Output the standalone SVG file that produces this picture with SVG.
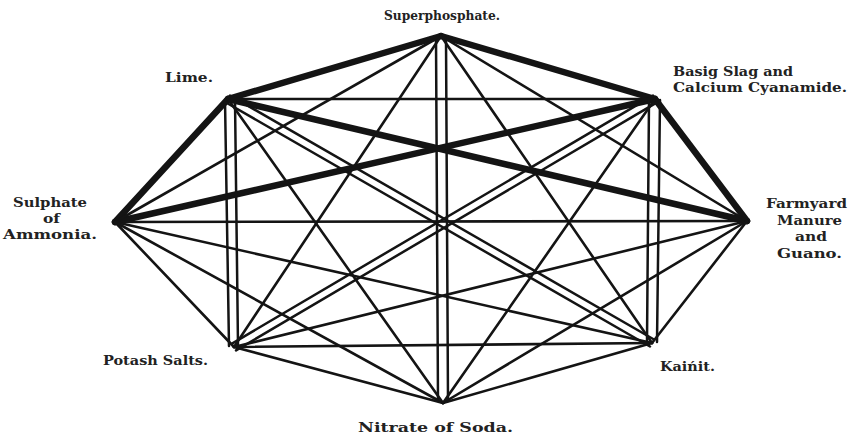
<svg xmlns="http://www.w3.org/2000/svg" width="854" height="437" viewBox="0 0 854 437">
<style>
.thin{stroke:#141414;stroke-width:2.6;fill:none;stroke-linecap:round}
.thick{stroke:#141414;stroke-width:6.5;fill:none;stroke-linecap:round;stroke-linejoin:round}
.dbl{stroke:#141414;stroke-width:2.5;fill:none;stroke-linecap:round}
.lbl{font-family:"DejaVu Serif","Liberation Serif",serif;font-weight:bold;font-size:13px;fill:#222}
</style>
<rect width="854" height="437" fill="#ffffff"/>
<g id="connectors">
<!-- thick: must not be mixed -->
<line class="thick" x1="441" y1="36" x2="228" y2="99"/>
<line class="thick" x1="441" y1="36" x2="655" y2="99"/>
<line class="thick" x1="228" y1="99" x2="115" y2="222"/>
<line class="thick" x1="228" y1="99" x2="747" y2="221"/>
<line class="thick" x1="655" y1="99" x2="115" y2="222"/>
<line class="thick" x1="655" y1="99" x2="747" y2="221"/>
<!-- double: mix just before use -->
<line class="dbl" x1="436" y1="38" x2="438" y2="401"/>
<line class="dbl" x1="446" y1="38" x2="448" y2="401"/>
<line class="dbl" x1="225" y1="100" x2="229" y2="346"/>
<line class="dbl" x1="235" y1="100" x2="238" y2="346"/>
<line class="dbl" x1="649" y1="100" x2="647" y2="342"/>
<line class="dbl" x1="660" y1="100" x2="657" y2="342"/>
<line class="dbl" x1="226" y1="102.5" x2="650" y2="346.5"/>
<line class="dbl" x1="230" y1="95.5" x2="654" y2="339.5"/>
<line class="dbl" x1="657" y1="102.4" x2="236" y2="350.4"/>
<line class="dbl" x1="653" y1="95.6" x2="232" y2="343.6"/>
<!-- thin: may be mixed at any time -->
<line class="thin" x1="228" y1="99" x2="655" y2="99"/>
<line class="thin" x1="441" y1="36" x2="115" y2="222"/>
<line class="thin" x1="441" y1="36" x2="747" y2="221"/>
<line class="thin" x1="441" y1="36" x2="234" y2="347"/>
<line class="thin" x1="441" y1="36" x2="652" y2="343"/>
<line class="thin" x1="115" y1="222" x2="747" y2="221"/>
<line class="thin" x1="115" y1="222" x2="652" y2="343"/>
<line class="thin" x1="115" y1="222" x2="443" y2="403"/>
<line class="thin" x1="115" y1="222" x2="234" y2="347"/>
<line class="thin" x1="747" y1="221" x2="234" y2="347"/>
<line class="thin" x1="747" y1="221" x2="443" y2="403"/>
<line class="thin" x1="747" y1="221" x2="652" y2="343"/>
<line class="thin" x1="443" y1="403" x2="234" y2="347"/>
<line class="thin" x1="443" y1="403" x2="652" y2="343"/>
<line class="thin" x1="443" y1="403" x2="228" y2="99"/>
<line class="thin" x1="443" y1="403" x2="655" y2="99"/>
<line class="thin" x1="234" y1="347" x2="652" y2="343"/>
</g>
<g id="superphosphate"><text class="lbl" x="384" y="20" textLength="116" lengthAdjust="spacingAndGlyphs">Superphosphate.</text></g>
<g id="lime"><text class="lbl" x="165" y="82" textLength="48" lengthAdjust="spacingAndGlyphs">Lime.</text></g>
<g id="basic-slag">
<text class="lbl" x="673" y="75.5" textLength="120" lengthAdjust="spacingAndGlyphs">Basig Slag and</text>
<text class="lbl" x="673" y="91.5" textLength="174" lengthAdjust="spacingAndGlyphs">Calcium Cyanamide.</text>
</g>
<g id="sulphate-of-ammonia">
<text class="lbl" x="13" y="207" textLength="74" lengthAdjust="spacingAndGlyphs">Sulphate</text>
<text class="lbl" x="43" y="223" textLength="17" lengthAdjust="spacingAndGlyphs">of</text>
<text class="lbl" x="3" y="239" textLength="94" lengthAdjust="spacingAndGlyphs">Ammonia.</text>
</g>
<g id="farmyard-manure">
<text class="lbl" x="766" y="208" textLength="81" lengthAdjust="spacingAndGlyphs">Farmyard</text>
<text class="lbl" x="777" y="224.5" textLength="65" lengthAdjust="spacingAndGlyphs">Manure</text>
<text class="lbl" x="795" y="241" textLength="32" lengthAdjust="spacingAndGlyphs">and</text>
<text class="lbl" x="777" y="257.5" textLength="65" lengthAdjust="spacingAndGlyphs">Guano.</text>
</g>
<g id="potash-salts"><text class="lbl" x="103" y="365" textLength="105" lengthAdjust="spacingAndGlyphs">Potash Salts.</text></g>
<g id="kainit"><text class="lbl" x="660" y="371" textLength="55" lengthAdjust="spacingAndGlyphs">Kaińit.</text></g>
<g id="nitrate-of-soda"><text class="lbl" x="358" y="432" textLength="155" lengthAdjust="spacingAndGlyphs">Nitrate of Soda.</text></g>
</svg>
